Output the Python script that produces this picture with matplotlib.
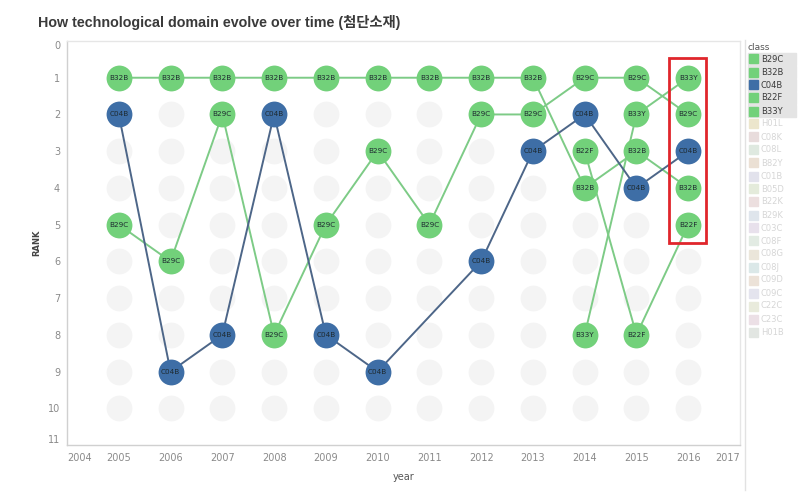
import matplotlib
matplotlib.use("Agg")
import matplotlib.pyplot as plt
from matplotlib.patches import Rectangle
import numpy as np

# ---- data ----
years = list(range(2005, 2017))
ranks_all = list(range(1, 11))

b32b_years = [2005, 2006, 2007, 2008, 2009, 2010, 2011, 2012, 2013, 2014, 2015, 2016]
b32b_rank = [1, 1, 1, 1, 1, 1, 1, 1, 1, 4, 3, 4]

c04b_years = [2005, 2006, 2007, 2008, 2009, 2010, 2012, 2013, 2014, 2015, 2016]
c04b_rank = [2, 9, 8, 2, 8, 9, 6, 3, 2, 4, 3]

b29c_years = [2005, 2006, 2007, 2008, 2009, 2010, 2011, 2012, 2013, 2014, 2015, 2016]
b29c_rank = [5, 6, 2, 8, 5, 3, 5, 2, 2, 1, 1, 2]

b33y_years = [2014, 2015, 2016]
b33y_rank = [8, 2, 1]

b22f_years = [2014, 2015, 2016]
b22f_rank = [3, 8, 5]

legend_classes = ["B29C", "B32B", "C04B", "B22F", "B33Y"]
faded_classes = ["H01L", "C08K", "C08L", "B82Y", "C01B", "B05D", "B22K", "B29K",
                 "C03C", "C08F", "C08G", "C08J", "C09D", "C09C", "C22C", "C23C", "H01B"]

GREEN = "#72d17a"
BLUE = "#3e6ea6"
GREEN_LINE = "#7dcb86"
BLUE_LINE = "#4d6688"

series = [
    ("B32B", b32b_years, b32b_rank, GREEN, GREEN_LINE),
    ("B29C", b29c_years, b29c_rank, GREEN, GREEN_LINE),
    ("B33Y", b33y_years, b33y_rank, GREEN, GREEN_LINE),
    ("B22F", b22f_years, b22f_rank, GREEN, GREEN_LINE),
    ("C04B", c04b_years, c04b_rank, BLUE, BLUE_LINE),
]
class_colors = {"B29C": GREEN, "B32B": GREEN, "C04B": BLUE, "B22F": GREEN, "B33Y": GREEN}
faded_colors = ["#ece6cc", "#e8dcdc", "#dfe9e0", "#ebe0d4", "#e2e2ec", "#e4ebdb",
                "#ecdfdf", "#dfe5ec", "#e8e1ec", "#e2ebe3", "#ebe6da", "#dbe8e8",
                "#ece2d8", "#e4e4ee", "#e9ebdc", "#ece0e6", "#e2e6e2"]

fig = plt.figure(figsize=(8.09, 4.94), dpi=100)
ax = fig.add_axes([67 / 809, 1 - 445 / 494, (740 - 67) / 809, (445 - 41) / 494])

ax.set_xlim(2004, 2017)
ax.set_ylim(11, 0)

NODE = 345

# background grey nodes
gx, gy = np.meshgrid(years, ranks_all)
ax.scatter(gx.ravel(), gy.ravel(), s=NODE, color="#f4f4f4", zorder=1, linewidths=0)

# lines
for name, xs, ys, c, lc in series:
    ax.plot(xs, ys, color=lc, lw=1.4, zorder=2, solid_capstyle="round")

# nodes
for name, xs, ys, c, lc in series:
    ax.scatter(xs, ys, s=NODE, color=c, zorder=3, linewidths=0)
    for x, y in zip(xs, ys):
        ax.text(x, y, name, ha="center", va="center", fontsize=5.2,
                color="#1e2a30", zorder=4)

# red highlight box
ax.add_patch(Rectangle((2015.63, 0.45), 0.72, 5.05, fill=False,
                       edgecolor="#e0262c", lw=2.0, zorder=5))

# axes styling
for s in ["top", "right"]:
    ax.spines[s].set_color("#e6e6e6")
for s in ["left", "bottom"]:
    ax.spines[s].set_color("#d0d0d0")
for s in ax.spines.values():
    s.set_linewidth(1.0)

xt = list(range(2004, 2018))
ax.set_xticks(xt)
ax.set_xticklabels([str(v) for v in xt])
yt = list(range(0, 12))
ax.set_yticks(yt)
ax.set_yticklabels([str(v) for v in yt])
ax.tick_params(axis="both", length=0, labelsize=7, labelcolor="#8a8a8a")
ax.tick_params(axis="x", pad=6)
ax.tick_params(axis="y", pad=5)
xl = ax.get_xticklabels()
xl[0].set_ha("left")
xl[-1].set_ha("right")
yl = ax.get_yticklabels()
yl[0].set_va("top")
yl[-1].set_va("bottom")

ax.set_xlabel("year", fontsize=7, color="#555555", labelpad=6)
ax.set_ylabel("RANK", fontsize=6, color="#444444", fontweight="bold", labelpad=5)

# title
fig.text(38 / 809, 1 - 22 / 494, "How technological domain evolve over time (첨단소재)",
         fontsize=10.3, fontweight="bold", color="#3a3a3a", va="center", ha="left",
         family=["Liberation Sans", "Noto Sans CJK KR"])

# legend (custom, Tableau-style)
lx = 748 / 809
fig.text(lx, 1 - 47 / 494, "class", fontsize=6.5, color="#555555", va="center", ha="left")
step = 13.0
y0 = 59.0
for i, cls in enumerate(legend_classes):
    yc = y0 + i * step
    fig.patches.append(Rectangle((lx, 1 - (yc + 6) / 494), 48 / 809, 12 / 494,
                                 transform=fig.transFigure, color="#e4e4e4", zorder=0))
    fig.patches.append(Rectangle((lx + 1 / 809, 1 - (yc + 4.5) / 494), 9 / 809, 9 / 494,
                                 transform=fig.transFigure, color=class_colors[cls], zorder=1))
    fig.text(lx + 13 / 809, 1 - yc / 494, cls, fontsize=6, color="#3a3a3a",
             va="center", ha="left")
for j, cls in enumerate(faded_classes):
    yc = y0 + (len(legend_classes) + j) * step
    fig.patches.append(Rectangle((lx + 1 / 809, 1 - (yc + 4.5) / 494), 9 / 809, 9 / 494,
                                 transform=fig.transFigure, color=faded_colors[j], zorder=1))
    fig.text(lx + 13 / 809, 1 - yc / 494, cls, fontsize=6, color="#d6d6d6",
             va="center", ha="left")
# legend border line
fig.add_artist(plt.Line2D([745 / 809, 745 / 809], [1 - 40 / 494, 1 - 490 / 494],
                          color="#e2e2e2", lw=1, transform=fig.transFigure))

fig.savefig("out.png", dpi=100)
